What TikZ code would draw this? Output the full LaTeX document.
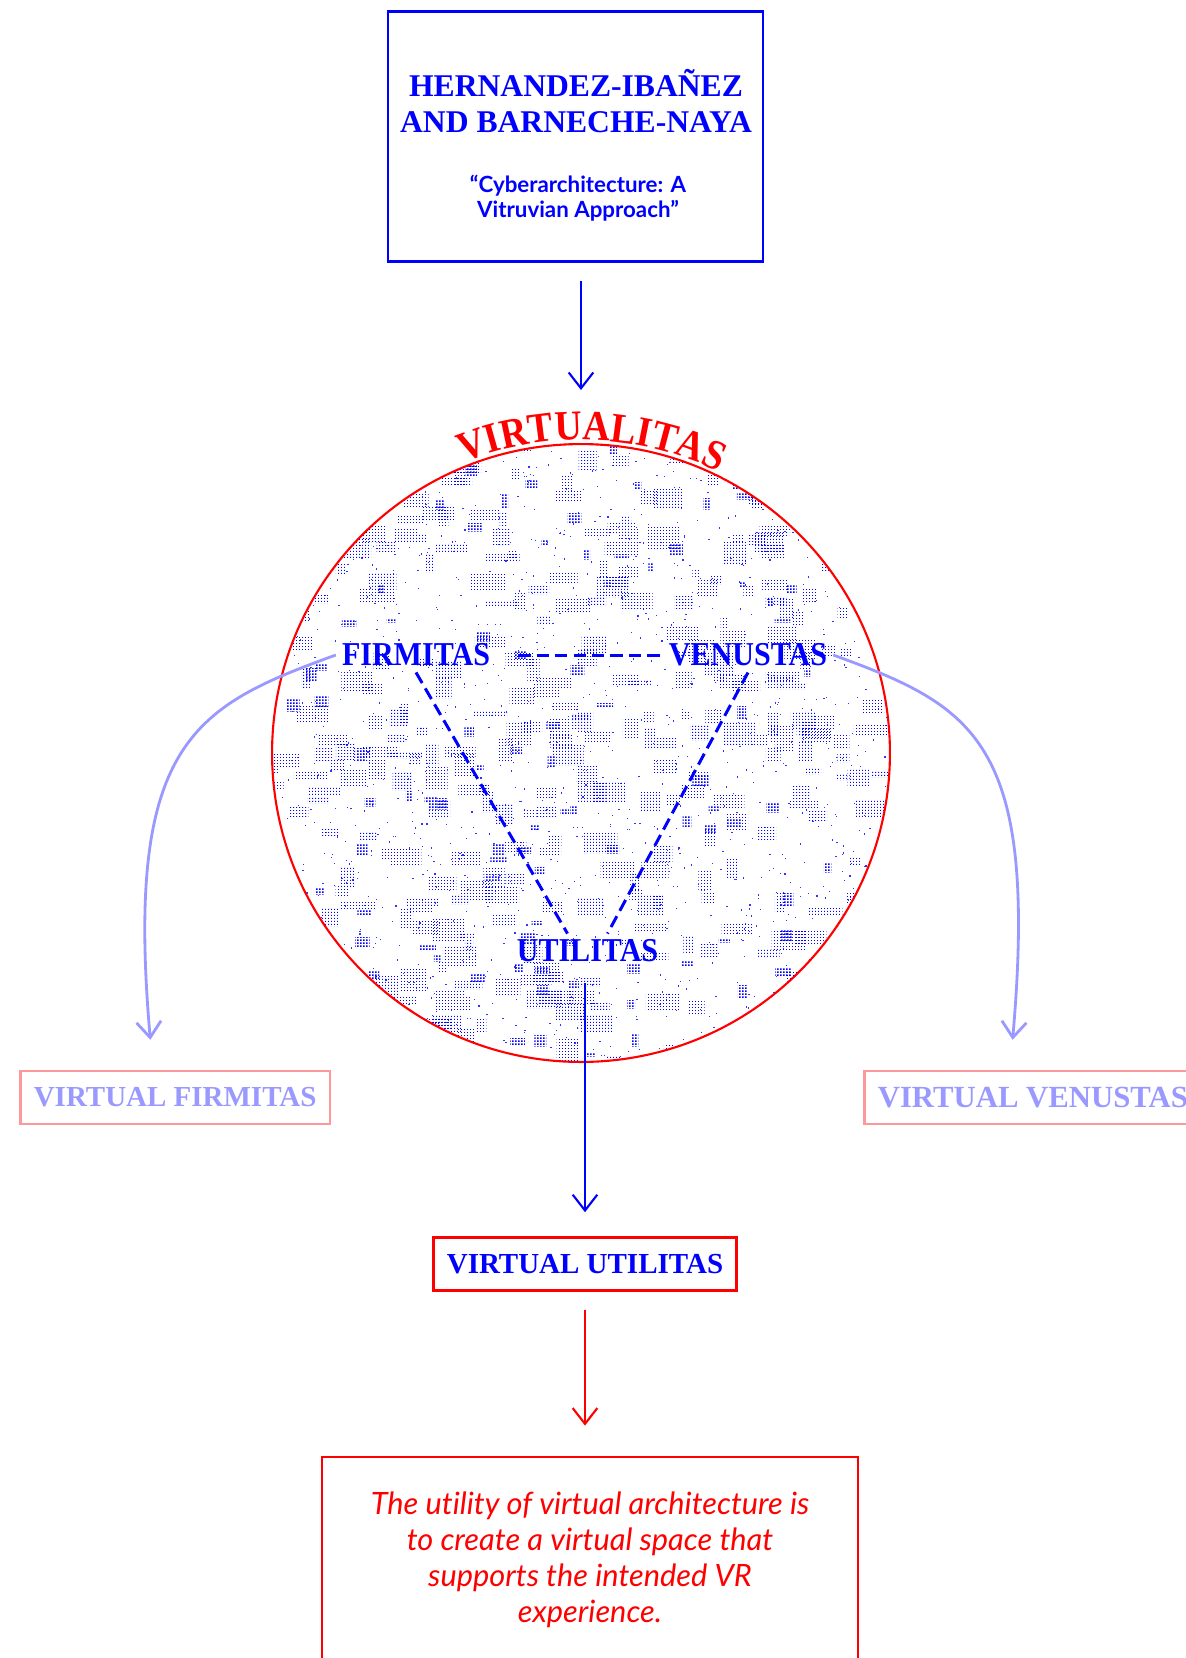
\documentclass[tikz,border=0pt]{standalone}
\usepackage{fontspec}
\setmainfont{Liberation Serif}
\newfontfamily\capfont{Liberation Serif}[FakeStretch=0.9]
\newfontfamily\latofont{Lato}[Ligatures=NoCommon]
\usetikzlibrary{arrows.meta,decorations.text,patterns}
\definecolor{fadeblue}{HTML}{9999FF}
\definecolor{fadered}{HTML}{FF9999}
\newcommand{\virtfont}{\capfont\bfseries\fontsize{24}{26}\selectfont}
% Rasterpunkte fuer den Kreis
\pgfdeclarepatternformonly{halftone}{\pgfqpoint{0pt}{0pt}}{\pgfqpoint{1.8pt}{1.8pt}}{\pgfqpoint{1.8pt}{1.8pt}}%
  {\pgfpathrectangle{\pgfqpoint{0pt}{0pt}}{\pgfqpoint{0.7pt}{0.7pt}}\pgfusepath{fill}}
\pgfdeclarepatternformonly{halftonebig}{\pgfqpoint{0pt}{0pt}}{\pgfqpoint{1.8pt}{1.8pt}}{\pgfqpoint{1.8pt}{1.8pt}}%
  {\pgfpathrectangle{\pgfqpoint{0pt}{0pt}}{\pgfqpoint{1.1pt}{1.1pt}}\pgfusepath{fill}}

\begin{document}
\begin{tikzpicture}[x=0.02cm, y=0.02cm, >={Straight Barb[length=9pt,width=14pt]},
  term/.style={font=\capfont\bfseries\fontsize{19}{21}\selectfont, text=blue},
  virtbox/.style={draw, line width=1.5pt, inner xsep=0.27cm, minimum height=1.06cm,
    font=\bfseries\fontsize{16.5}{18}\selectfont},
  linkdash/.style={blue, line width=1.7pt, dash pattern=on 7pt off 3.5pt},
  flow/.style={->, line width=1.2pt}]
% Rahmen
\useasboundingbox (0,0) rectangle (1186,-1658);
% Quelle oben
\node[draw=blue, line width=1.5pt, minimum width=7.5cm, minimum height=5cm] (src) at (575.5,-136.5) {};
\node[text=blue, align=center, font=\bfseries\fontsize{18}{20}\selectfont] (srcname) at (576,-101)
    {HERNANDEZ-IBAÑEZ\\AND BARNECHE-NAYA};
\node[text=blue, align=center, font=\latofont\bfseries\fontsize{12.7}{14.2}\selectfont] (srcpaper) at (578,-198)
    {“Cyberarchitecture: A\\Vitruvian Approach”};
% Kreis mit Rasterpunkten
\coordinate (vc) at (581,-753);
\begin{scope}
  \clip (vc) circle[radius=309];
  \pgfmathsetseed{1234}
  % lose Punkte
  \foreach \k in {1,...,1400} {
    \pgfmathsetmacro{\px}{581+309*rand}
    \pgfmathsetmacro{\py}{-753+309*rand}
    \fill[blue!80] (\px,\py) rectangle ++(1.2,1.2);
  }
  % Rasterflecken
  \foreach \k in {1,...,380} {
    \pgfmathsetmacro{\px}{570+320*rand}
    \pgfmathsetmacro{\py}{-760+320*rand}
    \pgfmathsetmacro{\pw}{8+28*rnd}
    \pgfmathsetmacro{\ph}{6+16*rnd}
    \fill[pattern=halftone, pattern color=blue] (\px,\py) rectangle ++(\pw,\ph);
  }
  % dichte Flecken
  \foreach \k in {1,...,110} {
    \pgfmathsetmacro{\px}{575+310*rand}
    \pgfmathsetmacro{\py}{-758+310*rand}
    \pgfmathsetmacro{\pw}{5+12*rnd}
    \pgfmathsetmacro{\ph}{4+9*rnd}
    \fill[pattern=halftonebig, pattern color=blue] (\px,\py) rectangle ++(\pw,\ph);
  }
\end{scope}
\node[circle, draw=red, line width=1.2pt, minimum size=12.36cm] (virt) at (vc) {};
\path[decorate, decoration={text along path, text align=center,
    text={|\virtfont\color{red}|VIRTUALITAS}}]
  ([shift={(148:313)}]vc) arc[start angle=148, end angle=28, radius=313];
\draw[flow, blue, shorten <=0.36cm, shorten >=1.06cm] (src.south -| virt) -- (virt.north);
% die drei Begriffe
\node[term] (firm) at (416,-655) {FIRMITAS};
\node[term] (venu) at (748,-655) {VENUSTAS};
\node[term] (util) at (587.5,-951) {UTILITAS};
\draw[linkdash, shorten <=0.44cm] (firm.east) -- (venu.west);
\draw[linkdash] (firm.south) -- ([xshift=-0.4cm]util.north);
\draw[linkdash] (venu.south) -- ([xshift=0.4cm]util.north);
% virtuelle Kaesten
\node[virtbox, draw=fadered, text=fadeblue, anchor=west] (vfirm) at (19,-1097.5) {VIRTUAL FIRMITAS};
\node[virtbox, draw=fadered, text=fadeblue, anchor=west, font=\bfseries\fontsize{17.5}{19}\selectfont]
  (vvenu) at (863,-1097.5) {VIRTUAL VENUSTAS};
\node[virtbox, draw=red, text=blue] (vutil) at (585,-1264) {VIRTUAL UTILITAS};
\draw[flow, fadeblue, line width=1.6pt, shorten >=0.6cm]
  (firm.west) .. controls +(200:150) and +(95:330) .. ([xshift=2.68cm]vfirm.north west);
\draw[flow, fadeblue, line width=1.6pt, shorten >=0.6cm]
  (venu.east) .. controls +(-20:150) and +(85:330) .. ([xshift=2.94cm]vvenu.north west);
\draw[flow, blue, shorten <=0.3cm, shorten >=0.48cm] (util.south -| vutil) -- (vutil.north);
% Aussage unten
\node[draw=red, line width=1.6pt, text=red, minimum width=10.72cm, minimum height=4.12cm, align=center,
    font=\latofont\itshape\fontsize{17.5}{20.6}\selectfont] (quote) at (590,-1560)
    {The utility of virtual architecture is\\to create a virtual space that\\supports the intended VR\\experience.};
\draw[flow, red, shorten <=0.36cm, shorten >=0.6cm] (vutil.south) -- (quote.north -| vutil);
\end{tikzpicture}
\end{document}
